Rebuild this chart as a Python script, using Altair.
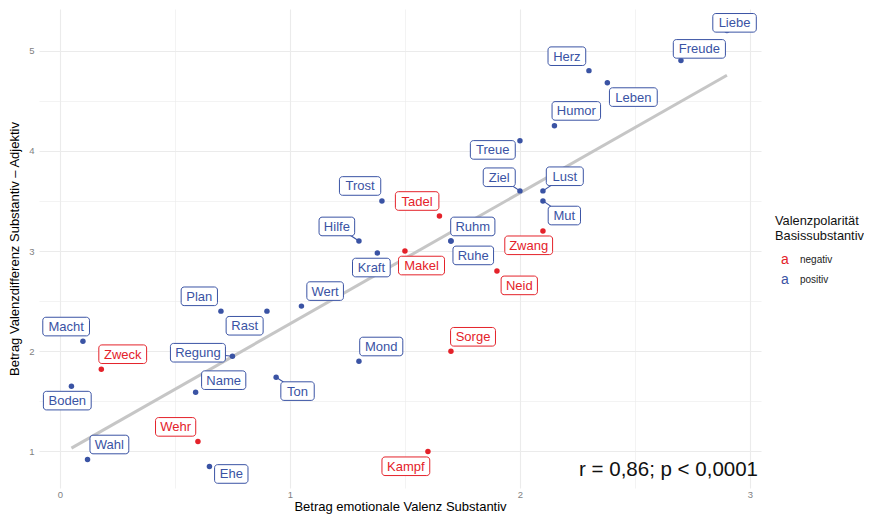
import altair as alt
import pandas as pd

# ---------------- data ----------------
words = ["Liebe", "Freude", "Herz", "Leben", "Humor", "Treue", "Ziel", "Lust",
         "Mut", "Zwang", "Trost", "Tadel", "Hilfe", "Ruhm", "Ruhe", "Kraft",
         "Makel", "Neid", "Wert", "Mond", "Sorge", "Kampf", "Plan", "Rast",
         "Macht", "Zweck", "Regung", "Name", "Boden", "Ton", "Wehr", "Wahl", "Ehe"]
x_vals = [2.90, 2.70, 2.30, 2.38, 2.15, 2.00, 2.00, 2.10,
          2.10, 2.10, 1.40, 1.65, 1.30, 1.70, 1.70, 1.38,
          1.50, 1.90, 1.05, 1.30, 1.70, 1.60, 0.70, 0.90,
          0.10, 0.18, 0.75, 0.59, 0.05, 0.94, 0.60, 0.12, 0.65]
y_vals = [5.20, 4.90, 4.80, 4.68, 4.25, 4.10, 3.60, 3.60,
          3.50, 3.20, 3.50, 3.35, 3.10, 3.10, 3.10, 2.98,
          3.00, 2.80, 2.45, 1.90, 2.00, 1.00, 2.40, 2.40,
          2.10, 1.82, 1.95, 1.59, 1.65, 1.74, 1.10, 0.92, 0.85]
polarity = ["positiv", "positiv", "positiv", "positiv", "positiv", "positiv", "positiv", "positiv",
            "positiv", "negativ", "positiv", "negativ", "positiv", "positiv", "positiv", "positiv",
            "negativ", "negativ", "positiv", "positiv", "negativ", "negativ", "positiv", "positiv",
            "positiv", "negativ", "positiv", "positiv", "positiv", "positiv", "negativ", "positiv", "positiv"]
# repelled label anchors (label centres, data units)
label_x = [2.933, 2.780, 2.204, 2.493, 2.245, 1.882, 1.910, 2.195,
           2.193, 2.038, 1.305, 1.553, 1.204, 1.795, 1.797, 1.354,
           1.572, 1.997, 1.153, 1.397, 1.796, 1.504, 0.606, 0.803,
           0.027, 0.273, 0.600, 0.712, 0.032, 1.033, 0.503, 0.215, 0.745]
label_y = [5.277, 5.017, 4.944, 4.536, 4.398, 4.009, 3.736, 3.746,
           3.354, 3.057, 3.649, 3.499, 3.245, 3.245, 2.956, 2.835,
           2.855, 2.657, 2.600, 2.047, 2.144, 0.852, 2.548, 2.254,
           2.246, 1.970, 1.985, 1.711, 1.507, 1.602, 1.245, 1.069, 0.775]
has_segment = [True, False, False, False, False, False, True, True,
               True, False, False, False, True, False, False, False,
               False, False, False, False, False, False, False, False,
               False, False, True, False, False, True, False, False, False]

categories = ["negativ", "positiv"]
annotation = ["r = 0,86; p < 0,0001"]
legend_title = ["Valenzpolarität\nBasissubstantiv"]

# ---------------- styling ----------------
RED = "#E4222A"
BLUE = "#3A53A4"
FONT = "Liberation Sans"
X_DOMAIN = [-0.091, 3.048]
Y_DOMAIN = [0.635, 5.415]
W, H = 722, 479
PX_X = W / (X_DOMAIN[1] - X_DOMAIN[0])
PX_Y = H / (Y_DOMAIN[1] - Y_DOMAIN[0])

df = pd.DataFrame({
    "word": words, "x": x_vals, "y": y_vals, "pol": polarity,
    "lx": label_x, "ly": label_y, "seg": has_segment,
})

color = alt.Color("pol:N", scale=alt.Scale(domain=categories, range=[RED, BLUE]), legend=None)

grid_w = {"condition": {"test": "datum.value % 1 === 0", "value": 1.1}, "value": 0.6}
lab_expr = "datum.value % 1 === 0 ? format(datum.value, 'd') : ''"
x_axis = alt.Axis(values=[0, 0.5, 1, 1.5, 2, 2.5, 3], labelExpr=lab_expr,
                  grid=True, gridColor="#EBEBEB", gridWidth=grid_w, domain=False, ticks=False,
                  labelPadding=1, labelFontSize=9.5, labelColor="#7F7F7F", labelFont=FONT,
                  title="Betrag emotionale Valenz Substantiv", titleFont=FONT, titleFontSize=13,
                  titleFontWeight="normal", titleColor="#000000", titlePadding=2)
y_axis = alt.Axis(values=[1, 1.5, 2, 2.5, 3, 3.5, 4, 4.5, 5], labelExpr=lab_expr,
                  grid=True, gridColor="#EBEBEB", gridWidth=grid_w, domain=False, ticks=False,
                  labelPadding=5, labelFontSize=9.5, labelColor="#7F7F7F", labelFont=FONT,
                  title="Betrag Valenzdifferenz Substantiv – Adjektiv", titleFont=FONT, titleFontSize=13,
                  titleFontWeight="normal", titleColor="#000000", titlePadding=7)

xs = alt.Scale(domain=X_DOMAIN, nice=False, zero=False)
ys = alt.Scale(domain=Y_DOMAIN, nice=False, zero=False)
XT = "Betrag emotionale Valenz Substantiv"
YT = "Betrag Valenzdifferenz Substantiv – Adjektiv"

base = alt.Chart(df)

reg = base.transform_regression("x", "y").mark_line(color="#C6C6C6", strokeWidth=3).encode(
    x=alt.X("x:Q", scale=xs, axis=x_axis, title=XT),
    y=alt.Y("y:Q", scale=ys, axis=y_axis, title=YT),
)

points = base.mark_circle(size=30, opacity=1).encode(
    x=alt.X("x:Q", scale=xs, title=XT), y=alt.Y("y:Q", scale=ys, title=YT), color=color,
)

segments = base.transform_filter("datum.seg").mark_rule(strokeWidth=1.1).encode(
    x=alt.X("x:Q", scale=xs, title=XT), y=alt.Y("y:Q", scale=ys, title=YT),
    x2="lx:Q", y2="ly:Q", color=color,
)

width_expr = (
    "7.2*length(datum.word)"
    " - 4.3*(length(datum.word) - length(replace(datum.word, regexp('[ilj]','g'), '')))"
    " - 3.6*(length(datum.word) - length(replace(datum.word, regexp('[tf]','g'), '')))"
    " - 2.9*(length(datum.word) - length(replace(datum.word, regexp('r','g'), '')))"
    " + 3.6*(length(datum.word) - length(replace(datum.word, regexp('m','g'), '')))"
    " + 1.8*(length(datum.word) - length(replace(datum.word, regexp('[A-Z]','g'), '')))"
    " + 2.5*(length(datum.word) - length(replace(datum.word, regexp('[MW]','g'), '')))"
    " + 10"
)

boxes = base.transform_calculate(
    bw=width_expr
).transform_calculate(
    bx0=f"datum.lx - datum.bw/2/{PX_X}",
    bx1=f"datum.lx + datum.bw/2/{PX_X}",
    by0=f"datum.ly - 9.3/{PX_Y}",
    by1=f"datum.ly + 9.3/{PX_Y}",
).mark_rect(fill="white", strokeWidth=1, cornerRadius=3).encode(
    x=alt.X("bx0:Q", scale=xs, title=XT), x2="bx1:Q",
    y=alt.Y("by0:Q", scale=ys, title=YT), y2="by1:Q",
    stroke=alt.Stroke("pol:N", scale=alt.Scale(domain=categories, range=[RED, BLUE]), legend=None),
)

texts = base.mark_text(font=FONT, fontSize=13, align="center", baseline="middle", dy=0.5).encode(
    x=alt.X("lx:Q", scale=xs, title=XT), y=alt.Y("ly:Q", scale=ys, title=YT),
    text="word:N", color=color,
)

ann = alt.Chart(pd.DataFrame({"t": annotation})).mark_text(
    font=FONT, fontSize=20.5, align="right", baseline="alphabetic", color="#111111"
).encode(text="t:N", x=alt.value(719), y=alt.value(H - 12))

main = alt.layer(reg, points, segments, boxes, texts, ann)

leg_title = alt.Chart(pd.DataFrame({"t": legend_title})).mark_text(
    font=FONT, fontSize=12.8, align="left", baseline="top", lineBreak="\n", lineHeight=15, color="#111111"
).encode(text="t:N", x=alt.value(736), y=alt.value(206))

leg_df = pd.DataFrame({"pol": categories})
leg_a = alt.Chart(leg_df).mark_text(font=FONT, fontSize=14, align="center", baseline="middle").encode(
    x=alt.value(746),
    y=alt.Y("pol:N", scale=alt.Scale(domain=categories, range=[251, 271], padding=0), axis=None),
    text=alt.value("a"), color=color,
)
leg_lab = alt.Chart(leg_df).mark_text(font=FONT, fontSize=10, align="left", baseline="middle", color="#222222").encode(
    x=alt.value(761),
    y=alt.Y("pol:N", scale=alt.Scale(domain=categories, range=[251, 271], padding=0), axis=None),
    text="pol:N",
)

legend = alt.layer(leg_title, leg_a, leg_lab)

chart = alt.layer(main, legend).resolve_scale(y="independent").properties(
    width=W, height=H, padding={"left": 0, "top": 1, "right": 0, "bottom": 0},
    background="white",
).configure_view(strokeWidth=0)

chart.save("out.html", embed_options={"renderer": "svg", "actions": False})
